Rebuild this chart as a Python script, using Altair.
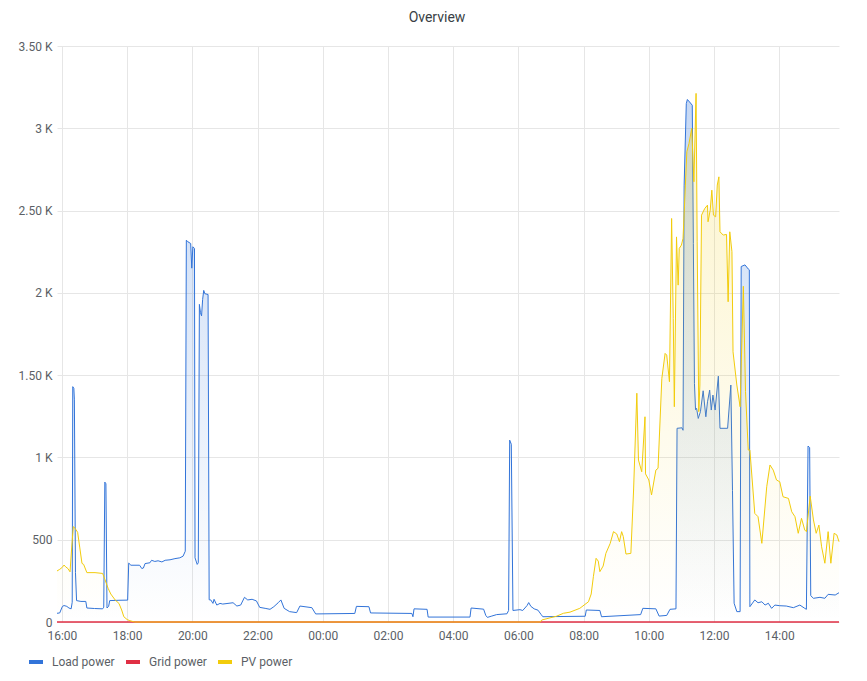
import altair as alt
import pandas as pd

DAY1 = "2024-05-10"
DAY2 = "2024-05-11"

series_names = ["Load power", "Grid power", "PV power"]
series_colors = ["#3274D9", "#E02F44", "#F2CC0C"]

load_times = [
    "15:51", "15:56", "16:01", "16:04", "16:09", "16:13", "16:17", "16:19", "16:20", "16:22",
    "16:23", "16:25", "16:27", "16:35", "16:44", "16:46", "17:00", "17:15", "17:17", "17:19",
    "17:21", "17:23", "17:26", "17:28", "17:45", "18:01", "18:03", "18:07", "18:23", "18:27",
    "18:30", "18:33", "18:42", "18:45", "18:51", "18:57", "19:04", "19:10", "19:19", "19:28",
    "19:37", "19:43", "19:47", "19:49", "19:52", "19:57", "19:59", "20:01", "20:04", "20:05",
    "20:07", "20:09", "20:11", "20:13", "20:15", "20:17", "20:19", "20:21", "20:23", "20:29",
    "20:31", "20:34", "20:38", "20:40", "20:45", "20:51", "20:56", "21:15", "21:22", "21:29",
    "21:36", "21:42", "21:50", "21:58", "22:04", "22:14", "22:23", "22:30", "22:38", "22:43",
    "22:49", "22:59", "23:12", "23:18", "23:40", "23:47", "00:59", "01:02", "01:25", "01:28",
    "02:44", "02:46", "02:48", "03:12", "03:14", "04:31", "04:33", "04:56", "05:00", "05:03",
    "05:10", "05:20", "05:39", "05:42", "05:44", "05:47", "05:50", "06:03", "06:08", "06:16",
    "06:19", "06:23", "06:29", "06:36", "06:42", "06:45", "08:03", "08:05", "08:30", "08:33",
    "09:45", "09:49", "10:13", "10:19", "10:33", "10:39", "10:50", "10:52", "11:01", "11:03",
    "11:05", "11:09", "11:11", "11:15", "11:20", "11:22", "11:24", "11:26", "11:28", "11:31",
    "11:35", "11:40", "11:45", "11:48", "11:52", "11:55", "11:58", "12:02", "12:08", "12:11",
    "12:25", "12:31", "12:34", "12:37", "12:42", "12:48", "12:50", "12:57", "13:03", "13:05",
    "13:06", "13:15", "13:21", "13:28", "13:34", "13:40", "13:46", "13:52", "14:01", "14:13",
    "14:26", "14:38", "14:47", "14:50", "14:53", "14:56", "14:58", "15:03", "15:15", "15:24",
    "15:30", "15:43", "15:50",
]
load_values = [
    53, 55, 95, 100, 95, 85, 80, 120, 1430, 1420,
    1350, 300, 130, 125, 125, 85, 82, 80, 90, 850,
    840, 85, 95, 130, 132, 133, 358, 345, 345, 325,
    328, 355, 360, 375, 368, 372, 365, 375, 378, 385,
    390, 400, 430, 2320, 2310, 2300, 2150, 2280, 2270, 390,
    370, 350, 360, 1930, 1880, 1860, 1960, 2015, 1995, 1990,
    135, 134, 113, 138, 103, 113, 109, 117, 97, 103,
    150, 134, 138, 128, 89, 83, 77, 93, 117, 134,
    83, 63, 57, 97, 87, 49, 52, 95, 93, 55,
    52, 32, 80, 77, 30, 30, 85, 78, 40, 28,
    35, 45, 50, 70, 1105, 1080, 70, 75, 70, 100,
    118, 95, 80, 72, 45, 32, 35, 73, 70, 32,
    45, 83, 80, 36, 40, 77, 80, 1177, 1180, 1165,
    2650, 3150, 3175, 3160, 3140, 2300, 1450, 1290, 1298, 1237,
    1278, 1405, 1247, 1338, 1409, 1288, 1379, 1288, 1494, 1177,
    1177, 1440, 800, 114, 63, 63, 2160, 2170, 2145, 2140,
    93, 134, 117, 123, 103, 114, 83, 103, 99, 97,
    87, 103, 83, 77, 1069, 1060, 160, 144, 150, 144,
    168, 164, 178,
]

grid_times = ["15:51", "20:00", "04:00", "15:50"]
grid_values = [0, 0, 0, 0]

pv_times = [
    "15:51", "15:56", "16:00", "16:04", "16:07", "16:11", "16:15", "16:18", "16:21", "16:24",
    "16:29", "16:33", "16:37", "16:40", "16:46", "17:01", "17:15", "17:19", "17:25", "17:30",
    "17:38", "17:45", "17:50", "17:54", "18:00", "18:05", "18:14", "06:40", "06:43", "06:58",
    "07:10", "07:23", "07:35", "07:53", "08:09", "08:14", "08:18", "08:23", "08:27", "08:30",
    "08:36", "08:41", "08:49", "08:55", "09:01", "09:06", "09:10", "09:13", "09:18", "09:27",
    "09:32", "09:38", "09:41", "09:47", "09:53", "09:54", "10:00", "10:05", "10:13", "10:17",
    "10:24", "10:30", "10:33", "10:38", "10:42", "10:45", "10:47", "10:51", "10:54", "10:56",
    "11:00", "11:03", "11:10", "11:14", "11:19", "11:23", "11:27", "11:29", "11:32", "11:34",
    "11:37", "11:43", "11:48", "11:49", "11:53", "11:56", "11:59", "12:03", "12:06", "12:09",
    "12:11", "12:17", "12:23", "12:26", "12:29", "12:33", "12:35", "12:42", "12:48", "12:54",
    "12:58", "13:03", "13:06", "13:15", "13:21", "13:28", "13:37", "13:43", "13:49", "13:55",
    "14:01", "14:07", "14:17", "14:23", "14:29", "14:35", "14:41", "14:47", "14:50", "14:57",
    "15:03", "15:08", "15:13", "15:18", "15:24", "15:30", "15:35", "15:41", "15:46", "15:50",
]
pv_values = [
    310, 320, 330, 346, 335, 325, 305, 450, 580, 570,
    545, 450, 356, 350, 300, 300, 295, 260, 205, 170,
    134, 113, 73, 32, 15, 8, 0, 0, 12, 25,
    35, 53, 60, 83, 123, 170, 275, 387, 370, 306,
    340, 417, 478, 549, 535, 488, 549, 520, 413, 417,
    802, 1390, 984, 913, 1247, 900, 863, 772, 923, 934,
    1480, 1632, 1622, 1460, 2452, 1845, 1308, 2340, 2047, 2270,
    2290, 2331, 2857, 2908, 2999, 2675, 3212, 2310, 1278, 1440,
    2472, 2513, 2533, 2432, 2503, 2624, 2472, 2462, 2655, 2705,
    2371, 2351, 2355, 1946, 2371, 2250, 1642, 1440, 1308, 2040,
    1400, 1045, 1045, 660, 640, 478, 822, 954, 923, 863,
    852, 761, 751, 670, 640, 539, 630, 559, 549, 765,
    620, 539, 589, 457, 357, 549, 357, 539, 529, 488,
]

y_ticks = [0, 500, 1000, 1500, 2000, 2500, 3000, 3500]
x_tick_hours = [(10, 16), (10, 18), (10, 20), (10, 22), (11, 0), (11, 2), (11, 4),
                (11, 6), (11, 8), (11, 10), (11, 12), (11, 14)]


def stamps(times):
    out, day, prev = [], DAY1, None
    for t in times:
        if prev is not None and t < prev:
            day = DAY2
        out.append(f"{day}T{t}:00")
        prev = t
    return out


frames = []
for name, times, values in [
    ("Load power", load_times, load_values),
    ("Grid power", grid_times, grid_values),
    ("PV power", pv_times, pv_values),
]:
    frames.append(pd.DataFrame({"time": stamps(times), "value": values, "series": name}))
df = pd.concat(frames, ignore_index=True)

FONT = "Roboto"
TEXT = "#5b5f66"
GRID = "#e6e6e6"

x_scale = alt.Scale(nice=False)
y_scale = alt.Scale(domain=[0, 3500], nice=False)

x_axis = alt.Axis(
    format="%H:%M",
    values=[alt.DateTime(year=2024, month=5, date=d, hours=h) for d, h in x_tick_hours],
    labelPadding=8,
    ticks=False,
    tickSize=0,
    domain=False,
    grid=True,
    gridColor=GRID,
    labelFont=FONT,
    labelFontSize=12,
    labelColor=TEXT,
    labelFlush=False,
)
y_axis = alt.Axis(
    values=y_ticks,
    labelExpr=(
        "datum.value >= 1000 ? (datum.value % 1000 == 0 ? format(datum.value/1000, 'd') "
        ": format(datum.value/1000, '.2f')) + ' K' : format(datum.value, 'd')"
    ),
    labelPadding=5,
    ticks=False,
    tickSize=0,
    domain=False,
    grid=True,
    gridColor=GRID,
    labelFont=FONT,
    labelFontSize=12,
    labelColor=TEXT,
)

base = alt.Chart(df).encode(
    x=alt.X("time:T", scale=x_scale, axis=x_axis, title=None),
    y=alt.Y("value:Q", scale=y_scale, axis=y_axis, title=None),
)

color_enc = alt.Color(
    "series:N",
    scale=alt.Scale(domain=series_names, range=series_colors),
    legend=alt.Legend(
        title=None,
        orient="none",
        legendX=-30,
        legendY=607,
        direction="horizontal",
        symbolType="stroke",
        symbolStrokeWidth=4,
        symbolSize=196,
        symbolOpacity=1,
        labelFont=FONT,
        labelFontSize=12,
        labelColor=TEXT,
        labelOffset=7,
        columnPadding=3,
        padding=0,
    ),
)


def grad(r, g, b, top):
    return alt.Gradient(
        gradient="linear",
        stops=[
            alt.GradientStop(color=f"rgba({r},{g},{b},0)", offset=0),
            alt.GradientStop(color=f"rgba({r},{g},{b},{top})", offset=1),
        ],
        x1=1, x2=1, y1=1, y2=0,
    )


def only(name):
    return base.transform_filter(alt.datum.series == name)


load_area = only("Load power").mark_area(color=grad(50, 116, 217, 0.28))
load_line = only("Load power").mark_line(strokeWidth=1).encode(color=color_enc)
grid_line = only("Grid power").mark_line(strokeWidth=2, opacity=0.75).encode(color=color_enc)
pv_area = only("PV power").mark_area(color=grad(242, 204, 12, 0.22))
pv_line = only("PV power").mark_line(strokeWidth=1).encode(color=color_enc)

chart = (
    alt.layer(load_area, load_line, grid_line, pv_area, pv_line)
    .properties(
        width=782,
        height=576,
        background="white",
        title=alt.TitleParams(
            "Overview",
            font=FONT,
            fontSize=14,
            fontWeight="normal",
            color="#3a3f46",
            anchor="middle",
            dx=-11,
            offset=15,
        ),
        autosize=alt.AutoSizeParams(type="none"),
        padding={"left": 49, "top": 38, "right": 20, "bottom": 50},
    )
    .configure_view(stroke=None)
)

chart.save("out.html", embed_options={"renderer": "svg", "actions": False})
